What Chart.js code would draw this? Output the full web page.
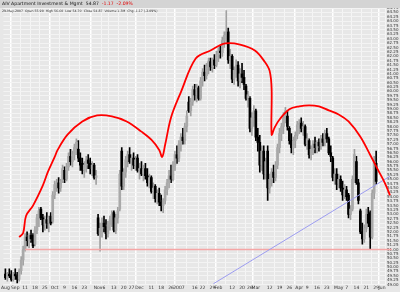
<!DOCTYPE html>
<html>
<head>
<meta charset="utf-8">
<title>AIV daily</title>
<script src="https://cdn.jsdelivr.net/npm/chart.js@4.4.1/dist/chart.umd.min.js"></script>
<style>
  html, body { margin: 0; padding: 0; background: #e7e7e7; }
  #box { position: relative; width: 400px; height: 292px; overflow: hidden; }
  #chart { position: absolute; left: 0; top: 0; }
  #band { position: absolute; left: 0; top: 0; width: 400px; height: 8px; background: #d4d4d4; }
  #title { position: absolute; left: 2px; top: 1px; font: 4.6px "DejaVu Sans", sans-serif; color: #111; white-space: nowrap; }
  #title .dn { color: #e00000; }
  #sub { position: absolute; left: 2px; top: 9px; font: 3.2px "DejaVu Sans", sans-serif; color: #333; white-space: nowrap; }
</style>
</head>
<body>
<div id="box">
  <canvas id="chart" width="400" height="292"></canvas>
  <div id="band"></div>
  <div id="title">AIV Apartment Investment &amp; Mgmt&nbsp;&nbsp;54.87&nbsp;&nbsp;<span class="dn">-1.17&nbsp;&nbsp;-2.09%</span></div>
  <div id="sub">29-May-2007&nbsp; Open 55.90&nbsp; High 56.60&nbsp; Low 54.70&nbsp; Close 54.87&nbsp; Volume 1.3M&nbsp; Chg -1.17 (-2.09%)</div>
</div>
<script>
// daily bars, 25-Aug-2006 .. 29-May-2007 (one entry per trading day)
const opens = [
  49.6,49.4,49.6,49.5,49.3,49.6,49.5,49.3,49.8,50.4, 51.0,51.7,51.5,51.8,51.8,51.3,52.1,52.8,53.3,52.8,
  52.4,52.7,52.5,52.9,52.6,54.1,54.7,54.8,54.5,54.9, 55.5,55.0,55.7,56.3,56.0,56.4,56.8,56.7,56.2,55.9,
  55.5,55.8,56.1,55.9,55.6,55.8,55.1,52.8,51.9,52.2, 52.5,52.3,51.9,52.4,52.7,53.1,52.1,52.8,53.3,56.6,
  54.6,55.4,56.1,56.4,56.0,56.2,55.8,56.2,55.5,55.6, 55.3,55.6,55.2,54.8,55.1,54.3,54.6,53.9,54.2,53.7,
  53.5,53.8,54.4,54.8,55.2,55.0,55.8,56.4,56.2,57.0, 57.4,57.2,58.0,59.4,58.9,59.4,60.1,59.8,60.2,59.6,
  60.6,61.1,60.9,61.4,61.7,61.4,61.8,61.5,62.1,62.3, 62.2,62.9,63.2,63.4,61.8,62.0,60.7,61.2,61.5,60.6,
  61.0,60.8,60.3,59.6,59.6,57.9,58.5,58.9,57.4,57.1, 55.8,56.6,55.3,56.6,54.5,55.0,55.4,55.1,55.8,56.8,
  57.6,58.0,58.5,58.6,57.9,57.2,56.8,57.2,57.5,58.1, 58.2,57.9,58.0,57.0,57.2,56.4,56.7,57.0,56.8,57.1,
  56.9,57.3,57.1,57.6,57.3,56.5,56.2,55.1,55.3,54.7, 55.0,54.5,54.1,54.4,54.1,53.0,53.3,55.0,56.0,54.8,
  53.2,52.0,51.6,52.2,53.0,53.1,51.7,54.2,55.9
];
const highs = [
  49.9,49.7,49.9,49.8,49.7,49.9,49.7,49.9,50.6,51.2, 51.9,52.0,51.9,52.1,51.9,52.3,53.0,53.4,53.4,53.0,
  52.9,53.1,52.9,53.1,54.3,54.9,55.0,55.1,55.0,55.8, 55.7,55.9,56.5,56.7,56.6,57.0,57.3,57.2,56.5,56.2,
  56.0,56.3,56.4,56.2,56.0,55.9,55.5,53.0,52.5,52.8, 52.9,52.7,52.6,52.9,53.2,53.2,53.0,53.4,55.5,56.8,
  55.6,56.3,56.6,56.8,56.4,56.5,56.3,56.4,55.9,56.0, 55.8,55.9,55.6,55.3,55.2,54.8,54.7,54.4,54.5,54.1,
  53.9,54.6,55.0,55.5,55.8,56.0,56.6,56.9,57.2,57.6, 57.9,58.2,58.9,59.7,59.6,60.3,60.4,60.4,60.3,60.8,
  61.3,61.5,61.6,61.9,61.9,61.9,62.1,62.3,62.5,62.6, 63.1,63.4,64.6,63.6,62.4,62.1,61.4,61.8,61.7,61.3,
  61.6,61.2,60.4,60.0,59.7,58.8,59.2,59.0,57.9,57.5, 56.9,56.9,56.2,56.9,55.3,55.6,55.8,56.0,57.0,57.9,
  58.2,58.8,59.1,58.9,58.0,57.6,57.4,57.7,58.3,58.4, 58.5,58.3,58.1,57.6,57.3,56.9,57.2,57.4,57.2,57.3,
  57.5,57.6,57.8,57.9,57.4,56.9,56.3,55.6,55.6,55.3, 55.2,54.9,54.7,54.6,54.2,53.5,55.2,56.7,56.3,55.0,
  53.3,52.5,52.4,53.3,53.4,53.2,54.4,56.3,56.6
];
const lows = [
  49.3,49.2,49.4,49.2,49.2,49.3,49.1,49.2,49.6,50.1, 50.9,51.2,51.1,51.4,51.1,51.2,51.9,52.3,52.7,52.0,
  52.1,52.2,52.0,52.4,52.5,53.9,54.3,54.2,54.3,54.8, 54.8,54.9,55.5,55.8,55.7,56.1,56.4,56.0,55.5,55.3,
  55.1,55.4,55.6,55.3,55.2,55.0,54.7,51.8,50.9,51.7, 52.0,51.6,51.7,52.1,52.3,52.0,51.9,52.5,53.2,54.4,
  54.4,55.1,55.7,55.9,55.5,55.6,55.5,55.4,55.0,55.2, 54.9,55.0,54.6,54.5,54.2,53.9,53.7,53.6,53.5,53.2,
  53.1,53.6,54.1,54.5,54.8,54.9,55.5,55.9,56.0,56.6, 57.0,57.0,57.7,58.8,58.6,59.2,59.5,59.4,59.5,59.5,
  60.3,60.6,60.7,61.0,61.2,61.1,61.3,61.4,61.7,61.9, 62.0,62.5,62.7,61.6,61.3,60.5,60.4,60.8,60.3,60.2,
  60.5,60.1,59.5,59.1,57.7,57.5,58.0,57.2,56.6,55.4, 55.5,55.0,55.0,53.8,54.2,54.6,54.8,54.9,55.6,56.5,
  57.2,57.6,58.2,57.8,57.0,56.5,56.4,56.8,57.3,57.6, 57.7,57.5,56.9,56.7,56.2,56.1,56.4,56.5,56.5,56.6,
  56.7,56.9,56.9,57.1,56.4,56.0,54.9,54.7,54.4,54.5, 54.3,53.8,53.9,53.8,52.8,52.7,53.2,54.8,54.7,53.6,
  51.9,51.3,51.4,52.0,52.3,51.0,51.6,53.9,54.7
];
const closes = [
  49.4,49.6,49.5,49.3,49.6,49.5,49.3,49.8,50.4,51.0, 51.7,51.5,51.8,51.6,51.2,52.1,52.8,53.2,52.8,52.4,
  52.7,52.5,52.8,52.5,54.1,54.7,54.8,54.5,54.9,55.6, 55.0,55.7,56.3,56.0,56.4,56.8,57.1,56.2,55.8,55.5,
  55.8,56.1,55.9,55.6,55.8,55.1,55.2,51.9,52.2,52.5, 52.3,51.9,52.4,52.7,53.0,52.1,52.8,53.2,55.3,54.6,
  55.4,56.1,56.4,56.0,56.2,55.8,56.1,55.5,55.6,55.3, 55.6,55.2,54.8,55.1,54.3,54.5,53.9,54.2,53.7,53.5,
  53.8,54.4,54.8,55.2,55.0,55.8,56.4,56.2,57.0,57.4, 57.2,58.0,58.6,58.9,59.4,60.1,59.8,60.2,59.6,60.6,
  61.1,60.9,61.4,61.7,61.4,61.8,61.5,62.1,62.3,62.2, 62.9,63.2,63.4,61.8,62.0,60.7,61.2,61.5,60.6,61.0,
  60.8,60.4,59.6,59.8,57.9,58.5,58.9,57.4,57.1,55.8, 56.6,55.3,56.0,54.5,55.0,55.4,55.1,55.8,56.8,57.6,
  58.0,58.5,58.9,58.0,57.2,56.8,57.2,57.5,58.1,58.2, 57.9,58.0,57.0,57.3,56.4,56.7,57.0,56.8,57.1,56.9,
  57.3,57.1,57.6,57.3,56.5,56.3,55.1,55.3,54.7,55.0, 54.5,54.1,54.4,54.0,53.0,53.3,55.0,56.4,54.8,53.8,
  52.0,51.6,52.2,53.0,52.5,51.7,54.2,56.0,54.87
];

// weekly date ticks (bar index -> label); month starts drawn brighter
const tickIdx  = [0, 5, 10, 15, 20, 25, 30, 35, 40, 47, 50, 55, 60, 64, 68, 74, 79, 84, 88, 96, 100, 105,
                  108, 115, 120, 124, 127, 134, 139, 144, 149, 153, 158, 163, 169, 173, 178, 183, 188, 191];
const tickText = ['Aug', 'Sep', '11', '18', '25', 'Oct', '9', '16', '23', 'Nov', '6', '13', '20', '27', 'Dec', '11', '18', '26', '2007', '16', '22', '29',
                  'Feb', '12', '20', '26', 'Mar', '12', '19', '26', 'Apr', '9', '16', '23', 'May', '7', '14', '21', '29', 'Jun'];
const monthIdx = [5, 25, 47, 68, 88, 108, 127, 149, 169, 191];

// hand-drawn head & shoulders outline (bar index, price)
const curveIdx   = [7, 9, 10.5, 14, 19, 21.5, 25, 26.5, 31.5, 39, 46.5, 54, 61.5, 69, 74, 78, 79.5, 81, 84, 89, 96.5,
                    104, 111.5, 119, 126.5, 131.5, 134, 135, 135, 136.5, 139, 144, 149, 154, 159, 164, 169, 174, 180,
                    185, 189, 192.5, 195, 196.5];
const curvePrice = [51.71, 51.94, 52.92, 53.50, 54.65, 55.40, 56.27, 56.67, 57.54, 58.29, 58.63, 58.58, 58.29, 57.71,
                    57.25, 56.67, 56.27, 56.96, 58.52, 59.96, 61.87, 62.33, 62.73, 62.67, 62.33, 61.69, 61.17, 60.13,
                    57.54, 57.94, 58.40, 58.98, 59.15, 59.21, 59.15, 58.92, 58.69, 58.29, 57.42, 56.38, 55.52, 54.77,
                    54.08, 53.38];

// rising trendline and support level
const trendIdx   = [105.5, 195];
const trendPrice = [49.05, 55.17];
const supportIdx   = [10, 196];
const supportPrice = [51.0, 51.0];

const bars = closes.map((c, i) => i);
const up = bars.map(i => closes[i] >= opens[i]);

new Chart(document.getElementById('chart'), {
  type: 'bar',
  data: {
    datasets: [
      {
        type: 'line',
        data: curveIdx.map((x, k) => ({ x: x, y: curvePrice[k] })),
        borderColor: '#ff0000',
        borderWidth: 1.8,
        pointRadius: 0,
        tension: 0.35,
        clip: false,
        order: 0
      },
      {
        type: 'line',
        data: trendIdx.map((x, k) => ({ x: x, y: trendPrice[k] })),
        borderColor: '#9c9cf0',
        borderWidth: 1,
        pointRadius: 0,
        clip: false,
        order: 1
      },
      {
        type: 'line',
        data: supportIdx.map((x, k) => ({ x: x, y: supportPrice[k] })),
        borderColor: '#f5a6a6',
        borderWidth: 1.5,
        pointRadius: 0,
        clip: false,
        order: 1
      },
      {
        data: bars.map(i => ({ x: i, y: [opens[i], closes[i]] })),
        backgroundColor: bars.map(i => up[i] ? '#a9a9a9' : '#000000'),
        barThickness: 2,
        minBarLength: 1,
        grouped: false,
        order: 2
      },
      {
        data: bars.map(i => ({ x: i, y: [lows[i], highs[i]] })),
        backgroundColor: bars.map(i => up[i] ? '#a0a0a0' : '#000000'),
        barThickness: 1,
        grouped: false,
        order: 3
      }
    ]
  },
  options: {
    responsive: false,
    animation: false,
    layout: { padding: { top: 8 } },
    plugins: { legend: { display: false }, tooltip: { enabled: false } },
    scales: {
      x: {
        type: 'linear',
        min: -1,
        max: 193,
        offset: false,
        afterBuildTicks: s => { s.ticks = tickIdx.map(v => ({ value: v })) },
        ticks: {
          autoSkip: false,
          maxRotation: 0,
          padding: 1,
          color: '#333',
          font: { size: 4.5, family: 'DejaVu Sans' },
          callback: v => tickText[tickIdx.indexOf(v)]
        },
        grid: {
          drawTicks: false,
          color: c => monthIdx.includes(c.tick && c.tick.value) ? '#ffffff' : '#f5f5f5',
          lineWidth: c => monthIdx.includes(c.tick && c.tick.value) ? 1.5 : 1
        },
        border: { display: false }
      },
      y: {
        position: 'right',
        min: 49,
        max: 64.75,
        afterFit: s => { s.width = 14 },
        ticks: {
          stepSize: 0.25,
          maxTicksLimit: 100,
          autoSkip: false,
          padding: 1,
          color: '#333',
          font: { size: 4, family: 'DejaVu Sans' },
          callback: v => v.toFixed(2)
        },
        grid: { drawTicks: false, color: '#f3f3f3' },
        border: { display: false }
      }
    }
  }
});
</script>
</body>
</html>
